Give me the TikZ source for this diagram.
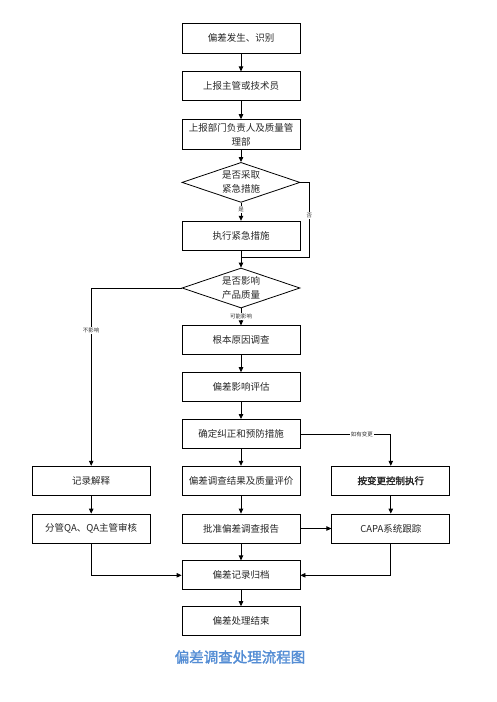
\documentclass[tikz,border=0pt]{standalone}
\usepackage{fontspec}
\newfontfamily\cjk{Noto Sans CJK SC}[AutoFakeBold=2]
\usepackage{xcolor}
\usetikzlibrary{arrows.meta, positioning, shapes.geometric}
\definecolor{titleblue}{HTML}{548DD4}

\begin{document}
\begin{tikzpicture}[x=1pt, y=-1pt,
    box/.style={rectangle, draw=black, line width=0.8pt, minimum width=118pt, minimum height=29pt, inner sep=2pt, align=center, font=\cjk\fontsize{9.5}{14}\selectfont, text=black!85},
    decision/.style={diamond, draw=black, line width=0.8pt, minimum width=118pt, minimum height=40pt, aspect=2.95, inner sep=0pt, align=center, font=\cjk\fontsize{9.5}{14}\selectfont, text=black!85},
    arrow/.style={-{Triangle[length=5pt, width=4.5pt]}, line width=0.8pt},
    line/.style={line width=0.8pt},
    tag/.style={font=\cjk\fontsize{5.5}{6}\selectfont, fill=white, inner sep=1pt, text=black!80},
]
\useasboundingbox (0,0) rectangle (496,702);

\node[box, minimum height=30pt] (found) at (241,38) {偏差发生、识别};
\node[box, below=18pt of found] (report) {上报主管或技术员};
\node[box, below=18pt of report, minimum height=30pt] (dept) {上报部门负责人及质量管\\理部};
\node[decision, below=12pt of dept] (urgent) {是否采取\\紧急措施};
\node[box, below=18pt of urgent] (action) {执行紧急措施};
\coordinate[below=7pt of action] (join);
\node[decision, below=17pt of action] (impact) {是否影响\\产品质量};
\node[box, below=17pt of impact] (cause) {根本原因调查};
\node[box, below=17pt of cause] (assess) {偏差影响评估};
\node[box, below=17pt of assess] (capa) {确定纠正和预防措施};
\node[box, below=17pt of capa] (result) {偏差调查结果及质量评价};
\node[box, left=31pt of result] (explain) {记录解释};
\node[box, right=31pt of result] (change) {\bfseries 按变更控制执行};
\node[box, below=18pt of result] (approve) {批准偏差调查报告};
\node[box, below=18pt of explain] (qa) {分管QA、QA主管审核};
\node[box, below=18pt of change] (track) {CAPA系统跟踪};
\node[box, below=17pt of approve] (archive) {偏差记录归档};
\node[box, below=16pt of archive] (finish) {偏差处理结束};

\node[font=\cjk\bfseries\fontsize{14.5}{16}\selectfont, text=titleblue] (title) at (240,657) {偏差调查处理流程图};

\draw[arrow] (found) -- (report);
\draw[arrow] (report) -- (dept);
\draw[arrow] (dept) -- (urgent);
\draw[arrow] (urgent) -- node[tag, pos=0.39] {是} (action);
\draw[arrow] (action) -- (impact);
\draw[line] (urgent.east) -- ++(9pt,0) |- node[tag, pos=0.22] {否} (join);
\draw[arrow] (impact) -- node[tag, pos=0.47] {可能影响} (cause);
\draw[arrow] (impact.west) -| node[tag, pos=0.62] {不影响} (explain.north);
\draw[arrow] (cause) -- (assess);
\draw[arrow] (assess) -- (capa);
\draw[arrow] (capa) -- (result);
\draw[arrow] (capa.east) -| node[tag, pos=0.34] {如有变更} (change.north);
\draw[arrow] (explain) -- (qa);
\draw[arrow] (result) -- (approve);
\draw[arrow] (change) -- (track);
\draw[arrow] (approve) -- (track);
\draw[arrow] (approve) -- (archive);
\draw[arrow] (qa.south) |- (archive.west);
\draw[arrow] (track.south) |- (archive.east);
\draw[arrow] (archive) -- (finish);
\end{tikzpicture}
\end{document}
